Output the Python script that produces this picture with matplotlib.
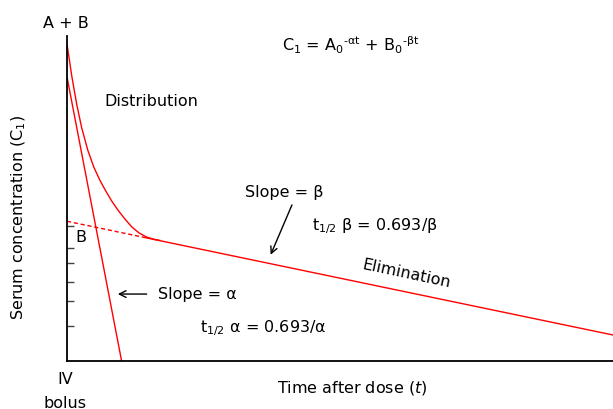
import matplotlib
matplotlib.use("Agg")
import matplotlib.pyplot as plt

# -----------------------------------------------------------------------------
# DATA (schematic units: time 0-10, log-concentration 0-100)
# -----------------------------------------------------------------------------

# A + B curve
curve_t = [0.00, 0.09, 0.18, 0.27, 0.38, 0.49, 0.60, 0.71, 0.82, 0.93,
           1.06, 1.19, 1.32, 1.45, 1.58, 1.70]
curve_c = [97.5, 87.4, 78.8, 71.7, 64.9, 59.7, 55.7, 52.3, 49.2, 46.5,
           43.7, 41.2, 39.4, 38.2, 37.5, 37.1]

# alpha (distribution) line
alpha_t = [0.0, 1.0]
alpha_c = [87.4, 0.0]

# beta (elimination) line: dashed extrapolation, then solid
beta_dash_t = [0.0, 1.45]
beta_dash_c = [43.0, 37.9]
beta_t = [1.45, 10.0]
beta_c = [37.9, 8.0]

# tick marks on the concentration axis
tick_levels = [41.6, 34.7, 30.1, 24.2, 18.4, 10.9]

RED = "#ff0000"
FS = 11.5

# -----------------------------------------------------------------------------
# PLOT
# -----------------------------------------------------------------------------

fig = plt.figure(figsize=(6.13, 4.10), dpi=100)
ax = fig.add_axes([67 / 613, 48 / 410, 546 / 613, 325 / 410])

ax.plot(curve_t, curve_c, color=RED, lw=1.0)
ax.plot(alpha_t, alpha_c, color=RED, lw=1.0)
ax.plot(beta_dash_t, beta_dash_c, color=RED, lw=1.0, linestyle=(0, (3, 2)))
ax.plot(beta_t, beta_c, color=RED, lw=1.0)

ax.set_xlim(0, 10)
ax.set_ylim(0, 100)
ax.spines["top"].set_visible(False)
ax.spines["right"].set_visible(False)
ax.spines["left"].set_linewidth(1.3)
ax.spines["bottom"].set_linewidth(1.3)
ax.set_xticks([])
ax.set_yticks(tick_levels)
ax.set_yticklabels([])
ax.tick_params(axis="y", direction="in", length=5, width=1, color="#444444")

# annotations
kw = dict(fontsize=FS, color="black", clip_on=False)
ax.text(-0.02, 104.3, "A + B", ha="center", va="center", **kw)
ax.text(0.68, 80.0, "Distribution", ha="left", va="center", **kw)
ax.text(3.93, 97.5, r"C$_1$ = A$_0$$^{\mathrm{‐αt}}$ + B$_0$$^{\mathrm{‐βt}}$",
        ha="left", va="center", **kw)
ax.text(3.26, 52.3, "Slope = β", ha="left", va="center", **kw)
ax.text(4.48, 41.8, r"t$_{1/2}$ β = 0.693/β", ha="left", va="center", **kw)
ax.text(6.21, 27.2, "Elimination", ha="center", va="center", rotation=-12, **kw)
ax.text(1.67, 20.9, "Slope = α", ha="left", va="center", **kw)
ax.text(2.44, 10.5, r"t$_{1/2}$ α = 0.693/α", ha="left", va="center", **kw)
ax.text(0.26, 38.2, "B", ha="center", va="center", **kw)
ax.text(-0.04, -5.3, "IV", ha="center", va="center", **kw)
ax.text(-0.04, -12.8, "bolus", ha="center", va="center", **kw)
ax.text(-0.88, 44.6, r"Serum concentration (C$_1$)", ha="center", va="center",
        rotation=90, **kw)
ax.text(5.23, -8.0, r"Time after dose ($t$)", ha="center", va="center", **kw)

arrow = dict(arrowstyle="->", color="black", lw=1.0, mutation_scale=12)
ax.annotate("", xy=(3.71, 31.9), xytext=(4.14, 48.8), arrowprops=arrow)
ax.annotate("", xy=(0.88, 20.6), xytext=(1.51, 20.6), arrowprops=arrow)

fig.savefig("out.png", dpi=100)
plt.close(fig)
